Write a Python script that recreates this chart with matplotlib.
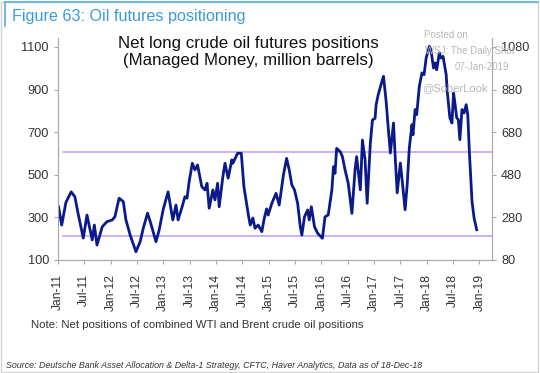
import matplotlib
matplotlib.use('Agg')
import matplotlib.pyplot as plt
from matplotlib.lines import Line2D
from matplotlib.patches import Rectangle

plt.rcParams['font.family'] = ['Liberation Sans', 'DejaVu Sans']

# ── data (decimal year, million barrels) ──
years = [2011.01, 2011.07, 2011.15, 2011.25, 2011.32, 2011.38, 2011.48, 2011.55,
         2011.65, 2011.69, 2011.74, 2011.84, 2011.93, 2012.03, 2012.08, 2012.16,
         2012.24, 2012.29, 2012.37, 2012.48, 2012.56, 2012.62, 2012.70, 2012.76,
         2012.86, 2012.92, 2013.00, 2013.09, 2013.18, 2013.24, 2013.28, 2013.35,
         2013.41, 2013.45, 2013.49, 2013.55, 2013.60, 2013.65, 2013.73, 2013.79,
         2013.83, 2013.87, 2013.94, 2013.98, 2014.03, 2014.06, 2014.13, 2014.17,
         2014.23, 2014.30, 2014.32, 2014.41, 2014.48, 2014.53, 2014.62, 2014.65,
         2014.70, 2014.74, 2014.80, 2014.87, 2014.91, 2014.96, 2014.99, 2015.06,
         2015.14, 2015.20, 2015.28, 2015.34, 2015.39, 2015.44, 2015.49, 2015.55,
         2015.60, 2015.63, 2015.68, 2015.74, 2015.77, 2015.81, 2015.87, 2015.93,
         2016.02, 2016.07, 2016.13, 2016.20, 2016.23, 2016.26, 2016.29, 2016.36,
         2016.40, 2016.45, 2016.51, 2016.58, 2016.64, 2016.67, 2016.74, 2016.78,
         2016.83, 2016.87, 2016.93, 2016.97, 2017.02, 2017.04, 2017.08, 2017.15,
         2017.18, 2017.21, 2017.23, 2017.27, 2017.31, 2017.34, 2017.37, 2017.40,
         2017.44, 2017.50, 2017.53, 2017.59, 2017.63, 2017.67, 2017.72, 2017.74,
         2017.78, 2017.81, 2017.86, 2017.91, 2017.95, 2017.99, 2018.05, 2018.08,
         2018.13, 2018.16, 2018.19, 2018.24, 2018.27, 2018.31, 2018.37, 2018.39,
         2018.44, 2018.48, 2018.51, 2018.54, 2018.57, 2018.60, 2018.63, 2018.67,
         2018.71, 2018.75, 2018.78, 2018.81, 2018.86, 2018.90, 2018.95]
net_long = [350, 264, 370, 420, 397, 320, 203, 311,
            194, 264, 170, 256, 280, 288, 303, 390,
            374, 288, 217, 139, 186, 250, 320, 273,
            186, 240, 340, 420, 288, 358, 288, 344,
            397, 390, 468, 554, 523, 546, 444, 429,
            460, 343, 429, 382, 460, 350, 491, 554,
            484, 570, 554, 601, 601, 444, 303, 264,
            297, 249, 264, 233, 288, 340, 311, 366,
            413, 358, 499, 577, 523, 452, 429, 366,
            256, 217, 303, 335, 288, 350, 256, 225,
            202, 303, 311, 429, 538, 507, 624, 608,
            585, 523, 460, 319, 523, 585, 429, 663,
            570, 366, 648, 757, 765, 829, 876, 938,
            962, 892, 845, 720, 602, 673, 743, 594,
            415, 555, 485, 336, 454, 626, 735, 688,
            806, 782, 915, 978, 970, 1048, 1103, 1087,
            1001, 1025, 993, 1072, 1048, 1056, 970, 892,
            767, 743, 884, 829, 767, 759, 665, 806,
            790, 829, 782, 610, 376, 297, 242]

band_levels = [605, 213]
tick_years = [2011 + 0.5 * i for i in range(17)]
tick_labels = [('Jan-' if i % 2 == 0 else 'Jul-') + str(11 + i // 2) for i in range(17)]
left_ticks = [100, 300, 500, 700, 900, 1100]
right_ticks = [80, 280, 480, 680, 880, 1080]

W, H = 540, 373
fig = plt.figure(figsize=(W / 100, H / 100), dpi=100)

# frame + title box
fig.add_artist(Rectangle((1 / W, 1 / H), 1 - 3 / W, 1 - 3 / H, transform=fig.transFigure,
                         fill=False, ec='#d4d4d4', lw=1))
fig.add_artist(Line2D([5 / W, 1 - 2 / W], [1 - 1.5 / H] * 2, transform=fig.transFigure,
                      color='#5aaee0', lw=1.2))
fig.add_artist(Line2D([5 / W, 5 / W], [1 - 1.5 / H, 1 - 26 / H], transform=fig.transFigure,
                      color='#5aaee0', lw=1.2))
fig.text(12 / W, 1 - 17 / H, 'Figure 63: Oil futures positioning', color='#3a9ad9',
         fontsize=11.6, va='center', ha='left')

ax = fig.add_axes([58 / W, 1 - 260 / H, (492 - 58) / W, (260 - 38) / H])
ax.plot(years, net_long, color='#0b1a8a', lw=2.0, solid_joinstyle='round', zorder=3)
for lvl in band_levels:
    ax.plot([2011.1, 2019.24], [lvl, lvl], color='#c49cf2', lw=1.1, zorder=2)

ax.set_xlim(2011.0, 2019.24)
ax.set_ylim(100, 1142)
ax.set_xticks(tick_years)
ax.set_xticklabels(tick_labels, rotation=90, fontsize=8.7, color='#333333')
ax.set_yticks(left_ticks)
ax.tick_params(axis='y', labelsize=9.2, labelcolor='#333333', color='#aaaaaa', length=3)
ax.tick_params(axis='x', color='#aaaaaa', length=3, pad=7)
ax.spines['top'].set_visible(False)
for s in ['left', 'bottom', 'right']:
    ax.spines[s].set_color('#aaaaaa')

ax2 = ax.twinx()
ax2.set_ylim(80, 1122)
ax2.set_yticks(right_ticks)
ax2.tick_params(axis='y', labelsize=9.2, labelcolor='#333333', color='#aaaaaa', length=3)
ax2.spines['top'].set_visible(False)
for s in ['left', 'bottom', 'right']:
    ax2.spines[s].set_color('#aaaaaa')

fig.text(248 / W, 1 - 52 / H, 'Net long crude oil futures positions\n(Managed Money, million barrels)',
         ha='center', va='center', fontsize=12.2, color='#111111', linespacing=1.2)

# watermark
wm = dict(color='#b8b8b8', fontsize=7, ha='left', va='center')
fig.text(424 / W, 1 - 35 / H, 'Posted on', **wm)
fig.text(425 / W, 1 - 51 / H, 'WSJ: The Daily Shot', **wm)
fig.text(455 / W, 1 - 67 / H, '07-Jan-2019', **wm)
fig.text(422 / W, 1 - 88 / H, '@SoberLook', color='#b8b8b8', fontsize=8, ha='left', va='center')

fig.text(31 / W, 1 - 325 / H, 'Note: Net positions of combined WTI and Brent crude oil positions',
         fontsize=8.2, color='#333333', ha='left', va='center')
fig.text(6 / W, 1 - 365 / H,
         'Source: Deutsche Bank Asset Allocation & Delta-1 Strategy, CFTC, Haver Analytics, Data as of 18-Dec-18',
         fontsize=6.4, style='italic', color='#333333', ha='left', va='center')

fig.savefig('out.png', dpi=100)
